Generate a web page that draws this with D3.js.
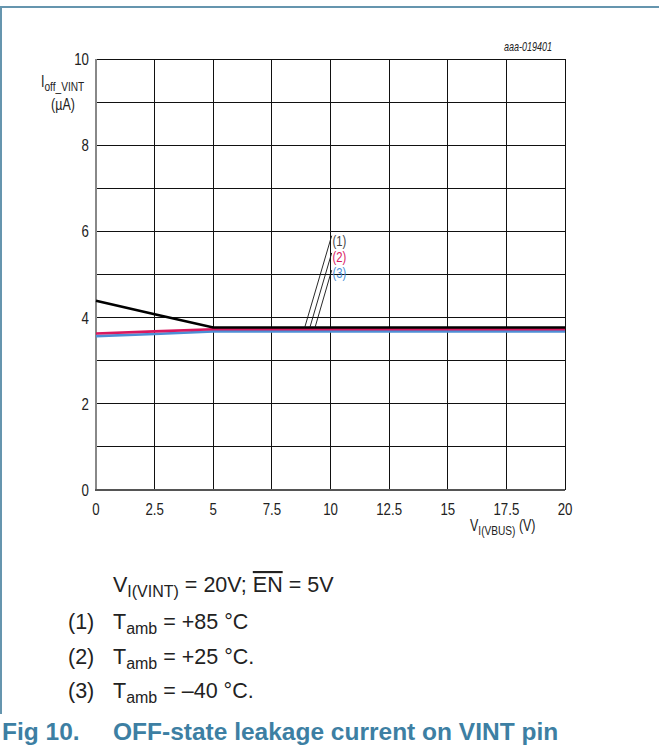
<!DOCTYPE html>
<html><head><meta charset="utf-8">
<script src="https://cdn.jsdelivr.net/npm/d3@7"></script>
<style>
body{margin:0;background:#fff;}
svg{display:block;}
text{font-family:"Liberation Sans",Arial,Helvetica,sans-serif;}
</style></head>
<body>
<script>
// ---- data ----
const vbus = [0, 2.5, 5, 7.5, 10, 12.5, 15, 17.5, 20];
const t85  = [4.39, 4.08, 3.77, 3.77, 3.77, 3.77, 3.77, 3.77, 3.77];
const t25  = [3.63, 3.68, 3.73, 3.73, 3.73, 3.73, 3.73, 3.73, 3.73];
const tm40 = [3.57, 3.62, 3.68, 3.68, 3.68, 3.68, 3.68, 3.68, 3.68];
const seriesNames = ["(1)", "(2)", "(3)"];
const xTicks = [0, 2.5, 5, 7.5, 10, 12.5, 15, 17.5, 20];
const xTickLabels = ["0", "2.5", "5", "7.5", "10", "12.5", "15", "17.5", "20"];
const yTicks = [0, 2, 4, 6, 8, 10];
const yGrid = [0,1,2,3,4,5,6,7,8,9,10];
// leader lines: [x0,y0,x1,y1] in data units
const leaders = [[8.9, 3.77, 10.05, 5.9], [9.12, 3.77, 10.05, 5.5], [9.34, 3.77, 10.05, 5.1]];
const labelPos = [[10.08, 5.66], [10.08, 5.29], [10.08, 4.92]];

const W = 659, H = 751;
const M = {l:96, r:565, t:59, b:490};
const SX = 0.78; // horizontal condensing of chart lettering
const svg = d3.select("body").append("svg").attr("width", W).attr("height", H);
svg.append("rect").attr("width", W).attr("height", H).attr("fill", "#fff");

const x = d3.scaleLinear().domain([0,20]).range([M.l, M.r]);
const y = d3.scaleLinear().domain([0,10]).range([M.b, M.t]);

function ctext(px, py, size, anchor, sx){
  return svg.append("text")
    .attr("transform", `translate(${px},${py}) scale(${sx==null?SX:sx},1)`)
    .attr("font-size", size).attr("text-anchor", anchor || "start").attr("fill", "#222");
}

// frame
svg.append("line").attr("x1",0).attr("x2",W).attr("y1",7).attr("y2",7).attr("stroke","#6595ae").attr("stroke-width",2);
svg.append("line").attr("x1",1).attr("x2",1).attr("y1",6).attr("y2",714).attr("stroke","#6595ae").attr("stroke-width",2);

// grid
const g = svg.append("g");
g.selectAll(".hg").data(yGrid.filter(d=>d>0)).enter().append("line")
  .attr("x1", M.l).attr("x2", M.r).attr("y1", d=>y(d)).attr("y2", d=>y(d))
  .attr("stroke", "#111").attr("stroke-width", 1).attr("shape-rendering","crispEdges");
g.selectAll(".vg").data(xTicks.filter(d=>d>0)).enter().append("line")
  .attr("y1", M.t).attr("y2", M.b).attr("x1", d=>x(d)).attr("x2", d=>x(d))
  .attr("stroke", "#111").attr("stroke-width", 1).attr("shape-rendering","crispEdges");
// axes lines
svg.append("line").attr("x1", M.l).attr("x2", M.l).attr("y1", M.t).attr("y2", M.b+1)
  .attr("stroke", "#888").attr("stroke-width", 2);
svg.append("line").attr("x1", M.l-1).attr("x2", M.r).attr("y1", M.b).attr("y2", M.b)
  .attr("stroke", "#555").attr("stroke-width", 2);

// tick labels
yTicks.forEach(d => ctext(M.l-7, y(d)+6, 17, "end").text(d));
xTicks.forEach((d,i) => ctext(x(d), M.b+25, 17, "middle").text(xTickLabels[i]));

// axis titles
const yl = ctext(41, 87, 16, "start");
yl.append("tspan").text("I");
yl.append("tspan").attr("font-size",13).attr("dy",4).text("off_VINT");
ctext(63, 110, 16, "middle").text("(µA)");
const xl = ctext(470, 531, 16, "start");
xl.append("tspan").text("V");
xl.append("tspan").attr("font-size",13).attr("dy",4).text("I(VBUS)");
xl.append("tspan").attr("dy",-4).text(" (V)");

ctext(552, 51, 12.5, "end", 0.72).attr("font-style","italic").text("aaa-019401");

// series
const line = d3.line().x(d=>x(d[0])).y(d=>y(d[1]));
const series = [
  {vals: tm40, color:"#4d8fd6"},
  {vals: t25, color:"#d9195f"},
  {vals: t85, color:"#000"}
];
series.forEach(s => {
  svg.append("path").datum(vbus.map((v,i)=>[v, s.vals[i]]))
    .attr("d", line).attr("fill","none").attr("stroke", s.color).attr("stroke-width", 2.6);
});

// leaders
svg.selectAll(".ld").data(leaders).enter().append("line")
  .attr("x1", d=>x(d[0])).attr("y1", d=>y(d[1])).attr("x2", d=>x(d[2])).attr("y2", d=>y(d[3]))
  .attr("stroke","#111").attr("stroke-width",0.9);
const labColors = ["#444", "#d9195f", "#4d8fd6"];
labelPos.forEach((d,i) => ctext(x(d[0]), y(d[1]), 14.5, "start").attr("fill", labColors[i]).text(seriesNames[i]));

// notes
const fs = 21.5;
const n1 = svg.append("text").attr("x",113).attr("y",592).attr("font-size",fs).attr("fill","#222");
n1.append("tspan").text("V");
n1.append("tspan").attr("font-size",16).attr("dy",5).text("I(VINT)");
n1.append("tspan").attr("dy",-5).text(" = 20V; ");
n1.append("tspan").attr("text-decoration","overline").text("EN");
n1.append("tspan").text(" = 5V");

const notes = [["(1)","+85 °C"],["(2)","+25 °C."],["(3)","\u201340 °C."]];
notes.forEach((n,i)=>{
  const yy = 629 + i*34.5;
  svg.append("text").attr("x",68).attr("y",yy).attr("font-size",fs).attr("fill","#222").text(n[0]);
  const t = svg.append("text").attr("x",113).attr("y",yy).attr("font-size",fs).attr("fill","#222");
  t.append("tspan").text("T");
  t.append("tspan").attr("font-size",16).attr("dy",5).text("amb");
  t.append("tspan").attr("dy",-5).text(" = " + n[1]);
});

svg.append("text").attr("x",2).attr("y",740).attr("font-size",24.5).attr("font-weight","bold")
  .attr("fill","#3d7fa3").text("Fig 10.");
svg.append("text").attr("x",113).attr("y",740).attr("font-size",24.5).attr("font-weight","bold")
  .attr("fill","#3d7fa3").text("OFF-state leakage current on VINT pin");
</script>
</body></html>
